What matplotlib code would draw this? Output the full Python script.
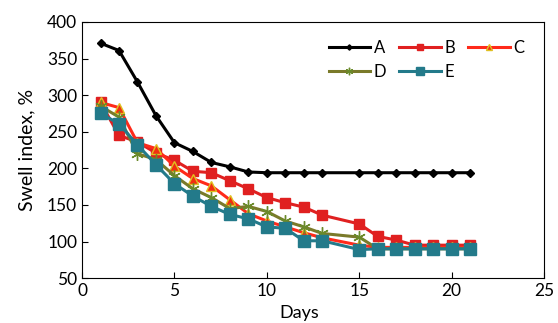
import matplotlib.pyplot as plt

plt.rcParams['font.family'] = ['Lato', 'DejaVu Sans']

days = [1, 2, 3, 4, 5, 6, 7, 8, 9, 10, 11, 12, 13, 15, 16, 17, 18, 19, 20, 21]

a = [371, 361, 318, 272, 235, 223, 208, 202, 195, 194, 194, 194, 194,
     194, 194, 194, 194, 194, 194, 194]
b = [290, 245, 236, 221, 211, 196, 194, 183, 172, 160, 153, 147, 136,
     124, 107, 102, 95, 95, 95, 95]
c = [290, 283, 235, 227, 203, 186, 176, 157, 138, 128, 120, 112, 105,
     95, 92, 92, 92, 92, 92, 92]
d = [285, 270, 220, 212, 190, 172, 160, 145, 148, 141, 128, 120, 111,
     106, 90, 90, 90, 90, 90, 90]
e = [275, 261, 232, 205, 179, 162, 148, 137, 131, 120, 118, 101, 101,
     89, 90, 90, 90, 90, 90, 90]

fig = plt.figure(figsize=(5.58, 3.23), dpi=100)
ax = fig.add_axes([0.147, 0.139, 0.828, 0.793])

lw = 2.2
la, = ax.plot(days, a, color='black', lw=lw, marker='D', ms=4.5, label='A')
lb, = ax.plot(days, b, color='#e02020', lw=lw, marker='s', ms=7, label='B')
lc, = ax.plot(days, c, color='#ff2a1a', lw=lw, marker='^', ms=7,
              mfc='#f03010', mec='#e0c020', label='C')
ld, = ax.plot(days, d, color='#7a7a2a', lw=lw, marker=(6, 2, 0), ms=9,
              mec='#6a8a2a', label='D')
le, = ax.plot(days, e, color='#237a8a', lw=lw, marker='s', ms=8.5, label='E')

ax.set_xlim(0, 25)
ax.set_ylim(50, 400)
ax.set_xticks([0, 5, 10, 15, 20, 25])
ax.set_yticks(range(50, 401, 50))
ax.tick_params(direction='in', labelsize=12.5, length=4)
ax.set_ylabel('Swell index, %', fontsize=14, labelpad=8)
ax.set_xlabel('Days', fontsize=13)
ax.xaxis.set_label_coords(0.47, -0.105)

ax.legend(handles=[la, ld, lb, le, lc], ncol=3, frameon=False, fontsize=12,
          loc='upper right', bbox_to_anchor=(0.99, 0.99), handlelength=2.5,
          handletextpad=0.2, columnspacing=0.8, markerscale=0.6)

fig.savefig('out.png', dpi=100)
